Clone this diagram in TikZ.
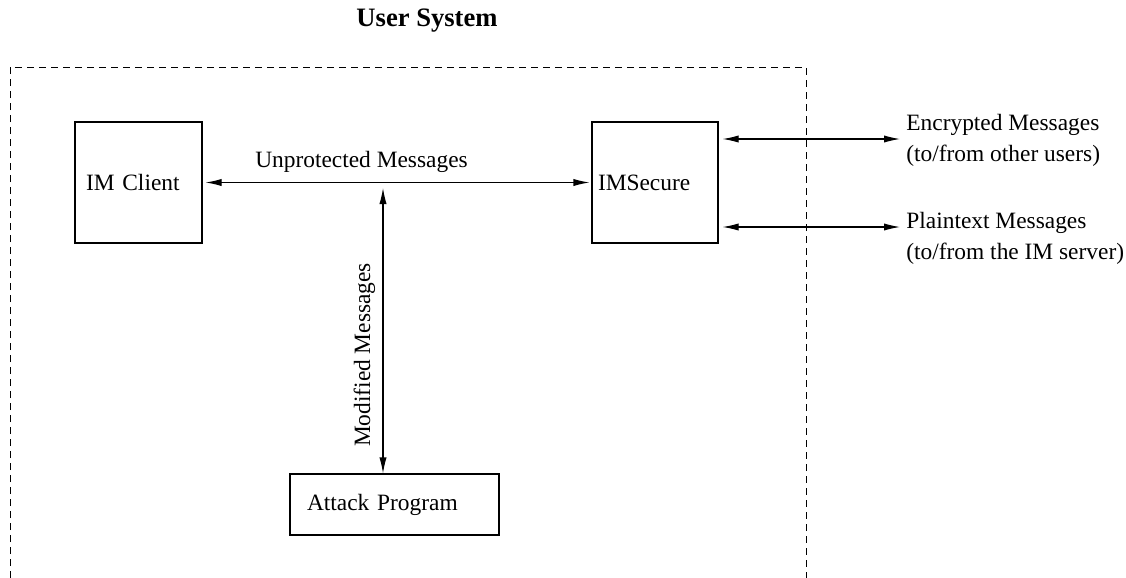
\documentclass[tikz,border=0pt]{standalone}
\usepackage{fontspec}
\setmainfont{Liberation Serif}
\usetikzlibrary{arrows.meta,calc}
\begin{document}
\begin{tikzpicture}[x=0.5pt,y=-0.5pt,
  box/.style={draw, line width=0.55pt, font=\fontsize{11.7}{14}\selectfont, align=left, inner ysep=0pt},
  lbl/.style={font=\fontsize{11.7}{15.5}\selectfont, inner sep=0pt, align=left},
  arr/.style={line width=0.55pt, {Latex[length=8pt,width=3.6pt]}-{Latex[length=8pt,width=3.6pt]}},
  frame/.style={line width=0.5pt, dash pattern=on 3.5pt off 2.5pt}]
\useasboundingbox (0,0) rectangle (1126,578);

% dashed system boundary (open at the bottom)
\coordinate (fbl) at (10,578);
\coordinate (ftl) at (10,67);
\coordinate (ftr) at (806,67);
\coordinate (fbr) at (806,578);
\draw[frame] (fbl) -- (ftl) -- (ftr) -- (fbr);

\node[font=\bfseries\fontsize{13.3}{16}\selectfont, inner sep=0pt] (title) at (427,21) {User System};

\node[box, minimum width=63.5pt, minimum height=60.5pt, inner xsep=5.5pt, text width=52.5pt] (client) at (138.5,182.5) {IM Client};
\node[box, minimum width=63pt, minimum height=60.5pt, inner xsep=3pt, text width=57pt] (secure) at (655,182.5) {IMSecure};
\node[box, minimum width=104.5pt, minimum height=30.5pt, inner xsep=8.5pt, text width=87.5pt] (attack) at (394.5,504.5) {Attack Program};

% main link
\draw[arr] ([xshift=1.5pt]client.east) -- ([xshift=-1pt]secure.west);
\node[lbl, anchor=base] (unprot) at (361.5,167) {Unprotected Messages};

% attack link
\coordinate (j) at (383,188);
\draw[arr] (j) -- (attack.north -| j);
\node[lbl, rotate=90, anchor=base] (modif) at (370,355) {Modified Messages};

% outside links
\coordinate (e1) at (900,139);
\coordinate (e2) at (900,227);
\draw[arr] ($(secure.east |- e1)+(4,0)$) -- (e1);
\draw[arr] ($(secure.east |- e2)+(4,0)$) -- (e2);
\node[lbl, anchor=west] (enc) at (906,140) {Encrypted Messages\\(to/from other users)};
\node[lbl, anchor=west] (plain) at (906,238) {Plaintext Messages\\(to/from the IM server)};
\end{tikzpicture}
\end{document}
